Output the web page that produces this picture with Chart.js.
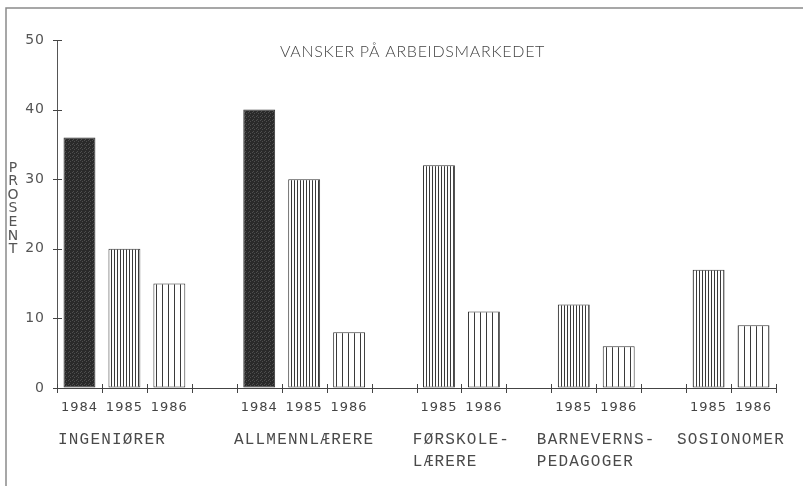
<!DOCTYPE html>
<html>
<head>
<meta charset="utf-8">
<script src="https://cdn.jsdelivr.net/npm/chart.js@4.4.1/dist/chart.umd.min.js"></script>
<style>
  body { margin: 0; background: #fff; }
  canvas { display: block; }
</style>
</head>
<body>
<canvas id="chart" width="803" height="486"></canvas>
<script>
const groupNames = [['INGENIØRER'], ['ALLMENNLÆRERE'], ['FØRSKOLE-', 'LÆRERE'], ['BARNEVERNS-', 'PEDAGOGER'], ['SOSIONOMER']];
const groupYears = [['1984', '1985', '1986'], ['1984', '1985', '1986'], ['1985', '1986'], ['1985', '1986'], ['1985', '1986']];
const groupValues = [[36, 20, 15], [40, 30, 8], [32, 11], [12, 6], [17, 9]];
const yTicks = [0, 10, 20, 30, 40, 50];
const chartTitle = 'VANSKER PÅ ARBEIDSMARKEDET';
const yTitle = 'PROSENT';

// fill patterns, one per year
function makePattern(w, h, draw) {
    const c = document.createElement('canvas');
    c.width = w; c.height = h;
    const g = c.getContext('2d');
    draw(g);
    return document.getElementById('chart').getContext('2d').createPattern(c, 'repeat');
}
const patterns = {
    '1984': makePattern(4, 4, g => {
        g.fillStyle = '#2a2a2a'; g.fillRect(0, 0, 4, 4);
        g.fillStyle = '#4e4e4e';
        g.fillRect(0, 0, 1, 1); g.fillRect(2, 1, 1, 1); g.fillRect(1, 3, 1, 1);
    }),
    '1985': makePattern(3, 1, g => {
        g.fillStyle = '#ffffff'; g.fillRect(0, 0, 3, 1);
        g.fillStyle = '#3a3a3a'; g.fillRect(0, 0, 1, 1);
    }),
    '1986': makePattern(6, 1, g => {
        g.fillStyle = '#ffffff'; g.fillRect(0, 0, 6, 1);
        g.fillStyle = '#3a3a3a'; g.fillRect(0, 0, 1, 1);
    })
};

// one slot per bar, an empty slot between groups
const labels = [], values = [], fills = [], groupStart = [];
groupYears.forEach((years, gi) => {
    groupStart.push(labels.length);
    years.forEach((y, i) => {
        labels.push(y);
        values.push(groupValues[gi][i]);
        fills.push(patterns[y]);
    });
    if (gi < groupYears.length - 1) {
        labels.push('');
        values.push(null);
        fills.push('#fff');
    }
});

const decorations = {
    id: 'decorations',
    beforeDraw(chart) {
        chart.ctx.letterSpacing = '1px';
    },
    afterDraw(chart) {
        const ctx = chart.ctx;
        const xs = chart.scales.x, ys = chart.scales.y;
        const area = chart.chartArea;
        ctx.save();

        // frame
        ctx.strokeStyle = '#8a8a8a';
        ctx.lineWidth = 1.5;
        ctx.beginPath();
        ctx.moveTo(6, chart.height);
        ctx.lineTo(6, 8);
        ctx.lineTo(chart.width, 8);
        ctx.stroke();

        // crossing tick marks
        ctx.strokeStyle = '#444';
        ctx.lineWidth = 1;
        const slot = (xs.right - xs.left) / labels.length;
        for (let k = 0; k <= labels.length; k++) {
            const x = Math.round(xs.left + k * slot) + 0.5;
            ctx.beginPath();
            ctx.moveTo(x, area.bottom - 4);
            ctx.lineTo(x, area.bottom + 5);
            ctx.stroke();
        }
        yTicks.forEach(v => {
            const y = Math.round(ys.getPixelForValue(v)) + 0.5;
            ctx.beginPath();
            ctx.moveTo(area.left - 4, y);
            ctx.lineTo(area.left + 5, y);
            ctx.stroke();
        });

        // title
        ctx.fillStyle = '#444';
        ctx.font = '300 16px Lato';
        ctx.letterSpacing = '0.7px';
        ctx.textAlign = 'center';
        ctx.textBaseline = 'middle';
        ctx.fillText(chartTitle, (area.left + area.right) / 2 - 4, area.top + 12);

        // vertical axis title, stacked letters
        ctx.fillStyle = '#555';
        ctx.font = '14px "DejaVu Sans"';
        ctx.letterSpacing = '0px';
        yTitle.split('').forEach((ch, i) => {
            ctx.fillText(ch, 13, 168 + i * 13.6);
        });

        // group names under the years
        ctx.fillStyle = '#4a4a4a';
        ctx.font = '16px "Liberation Mono"';
        ctx.letterSpacing = '1.2px';
        ctx.textAlign = 'left';
        groupNames.forEach((lines, gi) => {
            const first = groupStart[gi];
            const last = first + groupYears[gi].length - 1;
            const cx = (xs.getPixelForValue(first) + xs.getPixelForValue(last)) / 2;
            const w = Math.max(...lines.map(l => ctx.measureText(l).width));
            const left = gi === 0 ? xs.left + 1 : cx - w / 2;
            lines.forEach((l, li) => {
                ctx.fillText(l, left, area.bottom + 52 + li * 22);
            });
        });
        ctx.restore();
    }
};

new Chart(document.getElementById('chart'), {
    type: 'bar',
    data: {
        labels: labels,
        datasets: [{
            data: values,
            backgroundColor: fills,
            borderColor: '#333',
            borderWidth: 1,
            borderSkipped: false,
            barPercentage: 0.71,
            categoryPercentage: 1
        }]
    },
    options: {
        responsive: false,
        animation: false,
        layout: { padding: { top: 40, right: 27, left: 0, bottom: 0 } },
        plugins: {
            legend: { display: false },
            tooltip: { enabled: false }
        },
        scales: {
            x: {
                afterFit: s => { s.height = 98; },
                grid: { display: true, drawOnChartArea: false, drawTicks: false, offset: true },
                border: { display: true, color: '#444', width: 1 },
                ticks: {
                    color: '#444',
                    font: { family: 'DejaVu Sans', size: 13 },
                    padding: 12,
                    autoSkip: false,
                    maxRotation: 0
                }
            },
            y: {
                min: 0,
                max: 50,
                afterFit: s => { s.width = 57; },
                afterBuildTicks: s => { s.ticks = yTicks.map(v => ({ value: v })); },
                grid: { display: true, drawOnChartArea: false, drawTicks: false },
                border: { display: true, color: '#555', width: 1 },
                ticks: {
                    color: '#555',
                    font: { family: 'DejaVu Sans', size: 14 },
                    padding: 12
                }
            }
        }
    },
    plugins: [decorations]
});
</script>
</body>
</html>
